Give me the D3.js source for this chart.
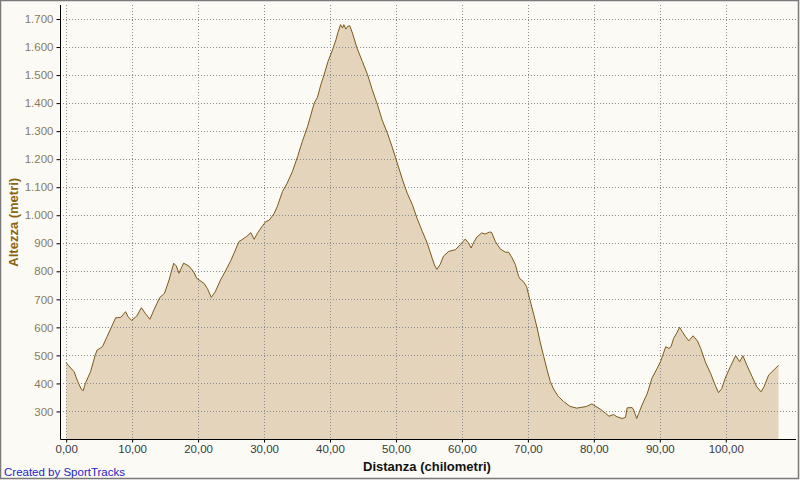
<!DOCTYPE html>
<html>
<head>
<meta charset="utf-8">
<script src="https://cdn.jsdelivr.net/npm/d3@7"></script>
<style>
html,body{margin:0;padding:0;background:#fbfaf5;}
svg{display:block;}
</style>
</head>
<body>
<svg id="chart" width="800" height="480"></svg>
<script>
// ---- data ----
const distanceKm = [0.0,0.4,1.2,1.67,2.27,2.58,2.9,3.7,4.4,4.7,5.5,6.2,7.0,7.5,8.3,9.0,9.4,9.9,10.7,11.4,12.0,12.7,13.3,14.2,14.9,15.6,16.3,16.7,17.1,17.8,18.6,19.3,19.8,20.9,21.4,22.0,22.6,23.4,24.1,25.0,25.4,26.2,26.8,27.4,28.0,28.5,29.0,29.7,30.25,30.8,31.5,32.0,32.8,33.5,34.3,35.1,35.8,36.6,37.1,37.6,38.1,38.6,39.1,39.7,40.35,40.9,41.2,41.6,41.9,42.1,42.4,42.7,43.0,43.4,44.1,44.9,45.7,46.4,47.2,47.9,48.7,49.4,50.2,51.0,51.7,52.5,53.2,54.0,54.75,55.5,55.9,56.2,56.7,57.2,58.0,59.0,59.75,60.5,61.0,61.4,61.8,62.3,63.0,63.5,64.2,64.5,65.05,65.8,66.6,67.1,67.6,68.1,68.6,68.8,69.3,69.8,70.3,70.9,71.4,71.9,72.4,72.9,73.4,73.9,74.6,75.4,76.4,77.4,78.2,78.9,79.7,80.5,81.0,81.8,82.3,83.0,83.5,84.3,84.8,85.05,85.8,86.05,86.5,86.8,87.3,88.1,88.8,89.6,90.1,90.9,91.4,91.7,92.1,92.6,93.0,93.4,93.9,94.4,95.05,95.7,96.2,96.9,97.7,98.4,98.9,99.4,99.9,100.7,101.5,102.1,102.6,103.2,104.0,104.7,105.35,105.8,106.5,107.3,108.0];
const altitudeM = [474,463,442,412,380,374,400,442,501,519,531,567,608,634,636,656,638,625,640,670,650,629,662,707,721,769,829,819,793,829,819,799,775,757,739,707,727,769,799,840,862,906,915,925,938,914,936,960,977,983,1005,1031,1085,1114,1156,1210,1263,1317,1358,1400,1421,1465,1501,1549,1588,1626,1652,1680,1668,1680,1664,1674,1676,1650,1596,1549,1501,1448,1394,1340,1293,1245,1186,1126,1079,1037,989,942,900,846,819,807,824,854,871,877,895,915,901,883,904,923,937,933,940,939,907,880,868,868,848,824,782,773,764,746,699,645,598,544,496,449,407,380,354,336,318,312,315,318,327,315,308,293,283,289,281,275,279,313,314,305,275,293,323,364,418,454,477,531,525,531,561,581,600,585,567,552,570,552,525,477,436,394,367,382,418,460,499,477,499,465,424,388,370,388,430,448,465];
const xTickValues = [0,10,20,30,40,50,60,70,80,90,100];
const yTickValues = [300,400,500,600,700,800,900,1000,1100,1200,1300,1400,1500,1600,1700];
const xDomain = [-0.86, 110.65];
const yDomain = [200, 1750];
const xTitle = "Distanza (chilometri)";
const yTitle = "Altezza (metri)";
const creditText = "Created by SportTracks";

// ---- layout ----
const plot = {left: 60.5, right: 796, top: 5, bottom: 439.5};
const svg = d3.select("#chart");
const itLocale = d3.formatLocale({decimal: ",", thousands: ".", grouping: [3], currency: ["€", ""]});
const fmtX = itLocale.format(",.2f");
const fmtY = itLocale.format(",d");

const x = d3.scaleLinear().domain(xDomain).range([plot.left, plot.right]);
const y = d3.scaleLinear().domain(yDomain).range([plot.bottom, plot.top]);

const data = distanceKm.map((d, i) => ({km: d, m: altitudeM[i]}));

// background
svg.append("rect").attr("x", 0).attr("y", 0).attr("width", 800).attr("height", 480).attr("fill", "#fbfaf5");

// area
svg.append("path").datum(data)
  .attr("fill", "#e3d4bb")
  .attr("d", d3.area().x(d => x(d.km)).y0(y(yDomain[0])).y1(d => y(d.m)));

// grid
const grid = svg.append("g").attr("stroke", "#8c8c8c").attr("stroke-width", 1).attr("stroke-dasharray", "1,2").attr("shape-rendering", "crispEdges");
grid.selectAll("line.h").data(yTickValues).join("line").attr("class", "h")
  .attr("x1", plot.left + 2).attr("x2", plot.right)
  .attr("y1", d => Math.round(y(d)) + 0.5).attr("y2", d => Math.round(y(d)) + 0.5);
grid.selectAll("line.v").data(xTickValues).join("line").attr("class", "v")
  .attr("x1", d => Math.round(x(d)) + 0.5).attr("x2", d => Math.round(x(d)) + 0.5)
  .attr("y1", plot.top).attr("y2", plot.bottom);

// line
svg.append("path").datum(data)
  .attr("fill", "none").attr("stroke", "#7c5a1c").attr("stroke-width", 1)
  .attr("stroke-linejoin", "round")
  .attr("d", d3.line().x(d => x(d.km)).y(d => y(d.m)));

// axes
const yAxis = svg.append("g").attr("transform", `translate(${plot.left},0)`)
  .call(d3.axisLeft(y).tickValues(yTickValues).tickFormat(fmtY).tickSize(4).tickPadding(3));
yAxis.select(".domain").attr("stroke", "#000").attr("d", `M0,${plot.top}V${plot.bottom}`);
yAxis.selectAll(".tick line").attr("stroke", "#000");
yAxis.selectAll("text").attr("fill", "#8a7a5c").attr("font-family", "Liberation Sans, Arial, sans-serif").attr("font-size", 11.5);

const xAxis = svg.append("g").attr("transform", `translate(0,${plot.bottom})`)
  .call(d3.axisBottom(x).tickValues(xTickValues).tickFormat(fmtX).tickSize(3).tickPadding(2));
xAxis.select(".domain").attr("stroke", "#000").attr("d", `M${plot.left},0H${plot.right}`);
xAxis.selectAll(".tick line").attr("stroke", "#000");
xAxis.selectAll("text").attr("fill", "#333a44").attr("font-family", "Liberation Sans, Arial, sans-serif").attr("font-size", 11.5);

// titles
svg.append("text").attr("x", 427).attr("y", 471).attr("text-anchor", "middle")
  .attr("font-family", "Liberation Sans, Arial, sans-serif").attr("font-size", 13).attr("font-weight", "bold")
  .attr("fill", "#111").text(xTitle);
svg.append("text").attr("transform", `translate(18,${(plot.top + plot.bottom) / 2}) rotate(-90)`).attr("text-anchor", "middle")
  .attr("font-family", "Liberation Sans, Arial, sans-serif").attr("font-size", 13).attr("font-weight", "bold")
  .attr("fill", "#8b6410").text(yTitle);
svg.append("text").attr("x", 4).attr("y", 476)
  .attr("font-family", "Liberation Sans, Arial, sans-serif").attr("font-size", 11.5)
  .attr("fill", "#2424c8").text(creditText);

// frame
svg.append("rect").attr("x", 0.5).attr("y", 0.5).attr("width", 798).attr("height", 478)
  .attr("fill", "none").attr("stroke", "#7a7a7a").attr("stroke-width", 1.5);
</script>
</body>
</html>
